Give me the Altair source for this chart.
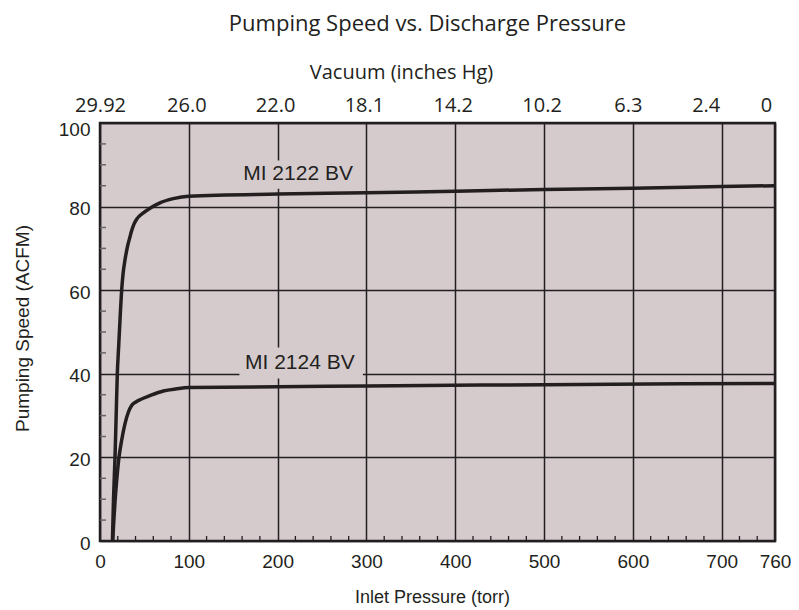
import altair as alt
import pandas as pd

# ---- data ----
x_2122 = [14, 15.2, 16.9, 18.2, 19.5, 21.0, 22.5, 24.4, 26.0, 28.1, 31.0, 33.8, 35.6, 38.0, 41.3, 48.8, 56.3, 67.5, 82.5, 100, 200, 300, 400, 500, 600, 700, 760]
y_2122 = [0, 10, 20, 30, 40, 46.5, 52.8, 60, 64, 67.2, 70.5, 72.8, 74.2, 75.7, 77.0, 78.5, 79.6, 80.9, 81.9, 82.5, 83.0, 83.3, 83.7, 84.1, 84.4, 84.8, 85.0]

x_2124 = [14.3, 15.6, 17.0, 19.0, 21.3, 24.3, 28.1, 31.9, 35.6, 40.0, 45.0, 56.3, 71.3, 86.3, 100, 300, 500, 760]
y_2124 = [0, 5, 9.7, 15, 19.9, 24.0, 28.0, 30.8, 32.4, 33.2, 33.8, 34.8, 35.9, 36.4, 36.7, 37.1, 37.4, 37.7]

series_names = ["MI 2122 BV", "MI 2124 BV"]

x_major = [0, 100, 200, 300, 400, 500, 600, 700, 760]
vacuum_labels = ["29.92", "26.0", "22.0", "18.1", "14.2", "10.2", "6.3", "2.4", "0"]
y_major = [0, 20, 40, 60, 80, 100]
x_minor = [v for v in range(20, 760, 20) if v % 100 != 0]
y_minor = [v for v in range(5, 100, 5) if v % 20 != 0]

# label annotations (data units)
label_x = [223, 225]
label_y = [87.7, 42.5]
box_x = [155, 157]
box_x2 = [292, 296]
box_y = [84.3, 38.9]
box_y2 = [91.0, 46.3]

BG = "#d5cbcd"
INK = "#231f20"

curves = pd.DataFrame(
    [{"x": a, "y": b, "s": series_names[0]} for a, b in zip(x_2122, y_2122)]
    + [{"x": a, "y": b, "s": series_names[1]} for a, b in zip(x_2124, y_2124)]
)
labels = pd.DataFrame({"x": label_x, "y": label_y, "t": series_names,
                       "bx": box_x, "bx2": box_x2, "by": box_y, "by2": box_y2})
xmin_df = pd.DataFrame({"x": x_minor})
ymin_df = pd.DataFrame({"y": y_minor})

xscale = alt.Scale(domain=[0, 760], nice=False, zero=False)
yscale = alt.Scale(domain=[0, 100], nice=False)

vac_expr = "[" + ",".join("'%s'" % s for s in vacuum_labels) + "][indexof([" + ",".join(str(v) for v in x_major) + "], datum.value)]"

bottom_axis = alt.Axis(
    orient="bottom", values=x_major, grid=True, gridColor=INK, gridWidth=1.5,
    ticks=False, domain=False, labelFont="Liberation Sans", labelFontSize=19,
    labelColor=INK, labelPadding=11, labelFlush=False, labelOverlap=False,
    title="Inlet Pressure (torr)", titleFont="Liberation Sans", titleFontSize=18,
    titleFontWeight="normal", titleColor=INK, titleX=332, titleY=56,
    titleBaseline="middle", titleAlign="center",
)
top_axis = alt.Axis(
    orient="top", values=x_major, grid=False, ticks=False, domain=False,
    labelExpr=vac_expr, labelFont="Open Sans", labelFontSize=20, labelColor=INK,
    labelPadding=8, labelFlush=False, labelOverlap=False,
    labelOffset={"condition": [{"test": "datum.value === 0", "value": 0},
                               {"test": "datum.value === 600", "value": -5},
                               {"test": "datum.value === 700", "value": -16},
                               {"test": "datum.value === 760", "value": -9}],
                 "value": -2.5},
    title="Vacuum (inches Hg)", titleFont="Open Sans", titleFontSize=20,
    titleFontWeight="normal", titleColor=INK, titleX=301, titleY=-51,
    titleBaseline="middle", titleAlign="center",
)
left_axis = alt.Axis(
    values=y_major, grid=True, gridColor=INK, gridWidth=1.5, ticks=False,
    domain=False, labelFont="Liberation Sans", labelFontSize=19, labelColor=INK,
    labelPadding=10,
    labelOffset={"condition": {"test": "datum.value === 100", "value": 6}, "value": 2},
    title="Pumping Speed (ACFM)", titleFont="Liberation Sans",
    titleFontSize=19, titleFontWeight="normal", titleColor=INK, titleX=-78,
    titleY=205, titleAngle=270, titleBaseline="middle", titleAlign="center",
)

lines = alt.Chart(curves).mark_line(color=INK, strokeWidth=3.5, interpolate="monotone").encode(
    x=alt.X("x:Q", scale=xscale, axis=bottom_axis),
    y=alt.Y("y:Q", scale=yscale, axis=left_axis),
    detail="s:N",
)

boxes = alt.Chart(labels).mark_rect(color=BG).encode(
    x=alt.X("bx:Q", scale=xscale, axis=None),
    x2="bx2:Q",
    y=alt.Y("by:Q", scale=yscale),
    y2="by2:Q",
)

texts = alt.Chart(labels).mark_text(font="Liberation Sans", fontSize=21, color=INK).encode(
    x=alt.X("x:Q", scale=xscale, axis=None),
    y=alt.Y("y:Q", scale=yscale),
    text="t:N",
)

xticks = alt.Chart(xmin_df).mark_rule(color=INK, strokeWidth=1.3).encode(
    x=alt.X("x:Q", scale=xscale, axis=top_axis),
    y=alt.value(418),
    y2=alt.value(413),
)

yticks = alt.Chart(ymin_df).mark_rule(color="#666666", strokeWidth=1.5).encode(
    y=alt.Y("y:Q", scale=yscale),
    x=alt.value(0),
    x2=alt.value(6),
)

chart = alt.layer(boxes, lines, texts, xticks, yticks).resolve_axis(x="independent").properties(
    width=675,
    height=418,
    title=alt.TitleParams(
        "Pumping Speed vs. Discharge Pressure", font="Open Sans", fontSize=22,
        fontWeight="normal", color=INK, anchor="middle", dx=-10, offset=26,
    ),
    autosize=alt.AutoSizeParams(type="none"),
    padding={"left": 92, "top": 115, "right": 16, "bottom": 67},
).configure_view(fill=BG, stroke=INK, strokeWidth=2.5)

chart.save("out.html", embed_options={"renderer": "svg", "actions": False})
